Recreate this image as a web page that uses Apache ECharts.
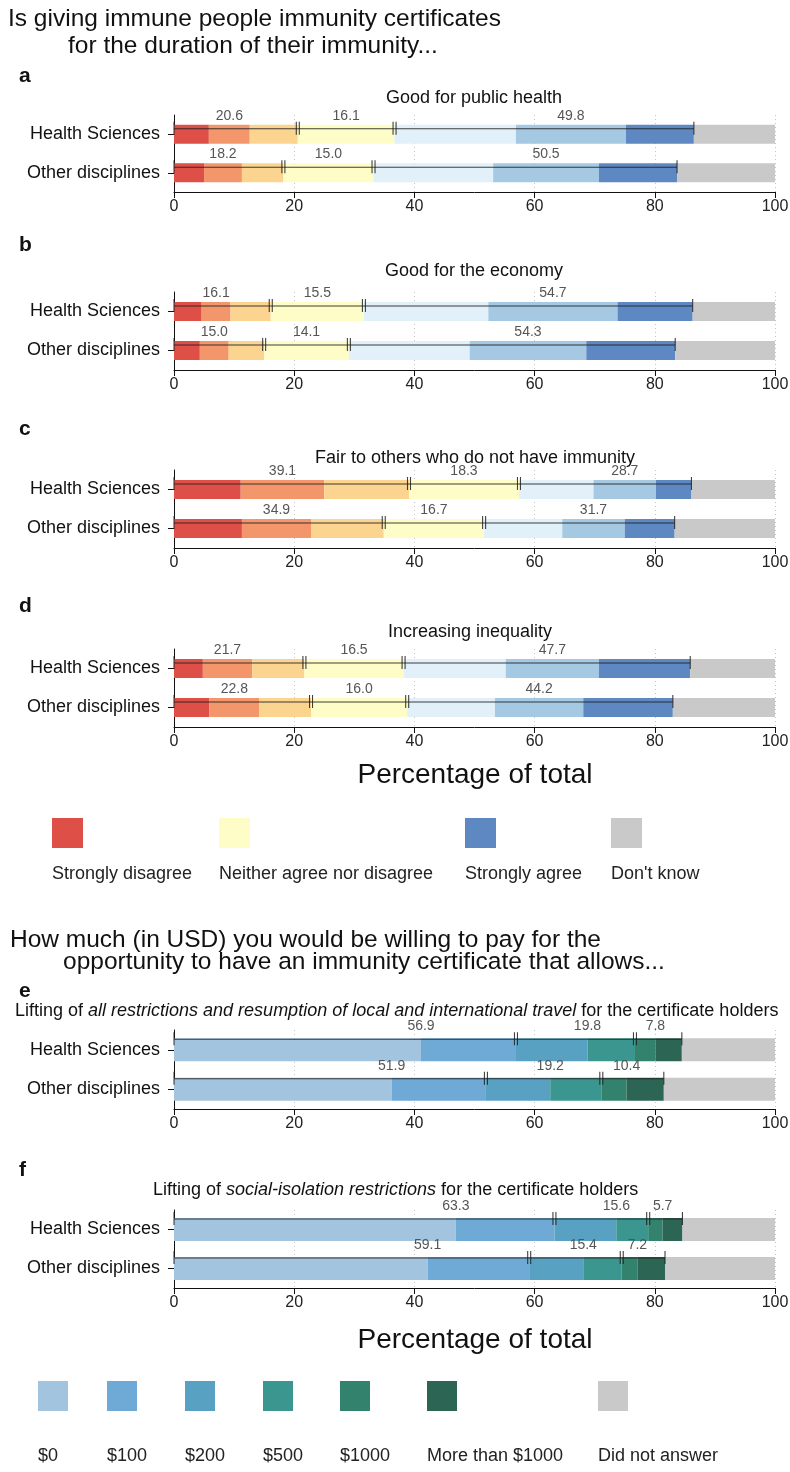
<!DOCTYPE html>
<html>
<head>
<meta charset="utf-8">
<script src="https://cdn.jsdelivr.net/npm/echarts@6/dist/echarts.min.js"></script>
<style>
  html, body { margin: 0; padding: 0; background: #fff; }
  #chart { width: 790px; height: 1472px; }
</style>
</head>
<body>
<div id="chart"></div>
<script>
// ---- data ----
var groups = ['Health Sciences', 'Other disciplines'];
var ticks = [0, 20, 40, 60, 80, 100];

var likertNames = ['Strongly disagree', 'Disagree', 'Somewhat disagree', 'Neither agree nor disagree',
  'Somewhat agree', 'Agree', 'Strongly agree', "Don't know"];
var payNames = ['$0', '$100', '$200', '$500', '$1000', 'More than $1000', 'Did not answer'];

// percentages per answer, Health Sciences / Other disciplines
var publicHealthHS = [5.8, 6.8, 8.0, 16.1, 20.2, 18.3, 11.3, 13.5];
var publicHealthOD = [5.0, 6.3, 6.9, 15.0, 19.9, 17.6, 13.0, 16.3];
var economyHS = [4.6, 4.8, 6.7, 15.5, 20.7, 21.5, 12.5, 13.7];
var economyOD = [4.3, 4.8, 5.9, 14.1, 20.1, 19.4, 14.8, 16.6];
var fairHS = [11.1, 13.9, 14.1, 18.3, 12.4, 10.4, 5.9, 13.9];
var fairOD = [11.3, 11.5, 12.1, 16.7, 13.0, 10.4, 8.3, 16.7];
var inequalityHS = [4.8, 8.2, 8.7, 16.5, 17.0, 15.5, 15.2, 14.1];
var inequalityOD = [5.9, 8.3, 8.6, 16.0, 14.6, 14.7, 14.9, 17.0];

var travelHS = [41.1, 15.8, 11.9, 7.9, 3.4, 4.4, 15.5];
var travelOD = [36.2, 15.7, 10.7, 8.5, 4.2, 6.2, 18.5];
var isolationHS = [46.9, 16.4, 10.3, 5.3, 2.4, 3.3, 15.4];
var isolationOD = [42.2, 16.9, 9.0, 6.4, 2.6, 4.6, 18.3];

// which answers are summed into a bracket
var likertGroups = [[0, 1, 2], [3], [4, 5, 6]];
var payGroups = [[0, 1], [2, 3], [4, 5]];

var likertColors = ['#de4f48', '#f4966b', '#fbd48f', '#fefdc8', '#e2f0f9', '#a5c9e3', '#5e88c2', '#c9c9c9'];
var payColors = ['#a3c4df', '#6eaad5', '#58a1c2', '#3a968f', '#33826d', '#2c6553', '#c9c9c9'];

var FONT = 'Liberation Sans, Arial, sans-serif';

// panel layout: top of plot, plot height, bar width
var panels = [
  {hs: publicHealthHS, od: publicHealthOD, names: likertNames, colors: likertColors, groups: likertGroups, top: 115, h: 77, bar: 19, lineOff: 4},
  {hs: economyHS, od: economyOD, names: likertNames, colors: likertColors, groups: likertGroups, top: 292, h: 78, bar: 19, lineOff: 4},
  {hs: fairHS, od: fairOD, names: likertNames, colors: likertColors, groups: likertGroups, top: 470, h: 78, bar: 19, lineOff: 4},
  {hs: inequalityHS, od: inequalityOD, names: likertNames, colors: likertColors, groups: likertGroups, top: 649, h: 78, bar: 19, lineOff: 4},
  {hs: travelHS, od: travelOD, names: payNames, colors: payColors, groups: payGroups, top: 1030, h: 79, bar: 23, lineOff: 1},
  {hs: isolationHS, od: isolationOD, names: payNames, colors: payColors, groups: payGroups, top: 1210, h: 78, bar: 23, lineOff: 1}
];

var grids = [], xAxes = [], yAxes = [], series = [];

function bracketData(row, vals, grp) {
  var cum = [0];
  vals.forEach(function (v, i) { cum.push(cum[i] + v); });
  return grp.map(function (g, k) {
    var start = cum[g[0]], end = cum[g[g.length - 1] + 1], lx;
    if (g.length % 2 === 1) {
      var m = g[(g.length - 1) / 2];
      lx = (cum[m] + cum[m + 1]) / 2;
    } else {
      lx = cum[g[g.length / 2]];
    }
    return [row, start, end, lx, end - start, k === 0 ? 1 : 0, k === grp.length - 1 ? 1 : 0];
  });
}

panels.forEach(function (p, idx) {
  grids.push({left: 174, right: 15, top: p.top, height: p.h, outerBoundsMode: 'none'});
  xAxes.push({
    gridIndex: idx, type: 'value', min: ticks[0], max: ticks[ticks.length - 1], interval: 20,
    axisLine: {show: true, lineStyle: {color: '#111', width: 1}},
    axisTick: {show: true, length: 6, lineStyle: {color: '#111'}},
    axisLabel: {fontSize: 16, color: '#222', margin: 7, fontFamily: FONT},
    splitLine: {show: true, lineStyle: {color: '#c4c4c4', type: [1, 3]}}
  });
  yAxes.push({
    gridIndex: idx, type: 'category', data: groups, inverse: true,
    axisLine: {show: true, lineStyle: {color: '#111', width: 1}},
    axisTick: {show: true, alignWithLabel: true, length: 6, lineStyle: {color: '#111'}},
    axisLabel: {fontSize: 18, color: '#111', margin: 14, fontFamily: FONT}
  });
  p.names.forEach(function (n, i) {
    series.push({
      type: 'bar', name: n, stack: 'p' + idx, xAxisIndex: idx, yAxisIndex: idx,
      barWidth: p.bar, silent: true, itemStyle: {color: p.colors[i]},
      data: [p.hs[i], p.od[i]]
    });
  });
  var bw = p.bar, off = p.lineOff;
  series.push({
    type: 'custom', xAxisIndex: idx, yAxisIndex: idx, z: 5, silent: true,
    encode: {x: [1, 2], y: 0},
    data: bracketData(0, p.hs, p.groups).concat(bracketData(1, p.od, p.groups)),
    renderItem: function (params, api) {
      var row = api.value(0);
      var s = api.coord([api.value(1), row]);
      var e = api.coord([api.value(2), row]);
      var l = api.coord([api.value(3), row]);
      var y = s[1] - bw / 2 + off;
      var sx = api.value(5) ? s[0] : s[0] + 1.5;
      var ex = api.value(6) ? e[0] : e[0] - 1.5;
      var st = {stroke: 'rgba(30,30,30,0.85)', lineWidth: 1.1};
      return {
        type: 'group',
        children: [
          {type: 'line', shape: {x1: s[0], y1: y, x2: e[0], y2: y}, style: st},
          {type: 'line', shape: {x1: sx, y1: y - 7, x2: sx, y2: y + 6}, style: st},
          {type: 'line', shape: {x1: ex, y1: y - 7, x2: ex, y2: y + 6}, style: st},
          {type: 'text', x: l[0], y: y - 13,
            style: {text: Number(api.value(4)).toFixed(1), align: 'center', verticalAlign: 'middle',
              fill: '#555', fontSize: 14, fontFamily: FONT}}
        ]
      };
    }
  });
});

// ---- text and legends ----
var graphics = [];
function txt(x, y, text, size, opt) {
  opt = opt || {};
  graphics.push({
    type: 'text', x: x, y: y, silent: true,
    style: {
      text: text, fontSize: size, fontFamily: FONT, fill: opt.fill || '#111',
      fontWeight: opt.bold ? 'bold' : 'normal', align: opt.align || 'left',
      verticalAlign: 'middle', rich: opt.rich
    }
  });
}

txt(8, 19, 'Is giving immune people immunity certificates', 24.5);
txt(68, 46, 'for the duration of their immunity...', 24.5);
txt(19, 76, 'a', 21, {bold: true});
txt(474, 98, 'Good for public health', 18, {align: 'center'});
txt(19, 245, 'b', 21, {bold: true});
txt(474, 271, 'Good for the economy', 18, {align: 'center'});
txt(19, 429, 'c', 21, {bold: true});
txt(475, 458, 'Fair to others who do not have immunity', 18, {align: 'center'});
txt(19, 606, 'd', 21, {bold: true});
txt(470, 632, 'Increasing inequality', 18, {align: 'center'});
txt(475, 775, 'Percentage of total', 28, {align: 'center'});

var likertLegend = [0, 3, 6, 7];
var likertLegendX = [52, 219, 465, 611];
likertLegend.forEach(function (k, i) {
  graphics.push({type: 'rect', silent: true, shape: {x: likertLegendX[i], y: 818, width: 31, height: 30},
    style: {fill: likertColors[k]}});
  txt(likertLegendX[i], 874, likertNames[k], 18, {fill: '#222'});
});

txt(10, 940, 'How much (in USD) you would be willing to pay for the', 24.5);
txt(63, 962, 'opportunity to have an immunity certificate that allows...', 24.5);
txt(19, 991, 'e', 21, {bold: true});
var richI = {i: {fontStyle: 'italic', fontSize: 18, fontFamily: FONT, fill: '#111'},
  n: {fontSize: 18, fontFamily: FONT, fill: '#111'}};
txt(15, 1011, '{n|Lifting of }{i|all restrictions and resumption of local and international travel}{n| for the certificate holders}', 18, {rich: richI});
txt(19, 1170, 'f', 21, {bold: true});
txt(153, 1190, '{n|Lifting of }{i|social-isolation restrictions}{n| for the certificate holders}', 18, {rich: richI});
txt(475, 1340, 'Percentage of total', 28, {align: 'center'});

var payLegendX = [38, 107, 185, 263, 340, 427, 598];
payNames.forEach(function (n, i) {
  graphics.push({type: 'rect', silent: true, shape: {x: payLegendX[i], y: 1381, width: 30, height: 30},
    style: {fill: payColors[i]}});
  txt(payLegendX[i], 1456, n, 18, {fill: '#222'});
});

var myChart = echarts.init(document.getElementById('chart'));
myChart.setOption({
  animation: false,
  backgroundColor: '#fff',
  grid: grids,
  xAxis: xAxes,
  yAxis: yAxes,
  series: series,
  graphic: graphics
});
</script>
</body>
</html>
